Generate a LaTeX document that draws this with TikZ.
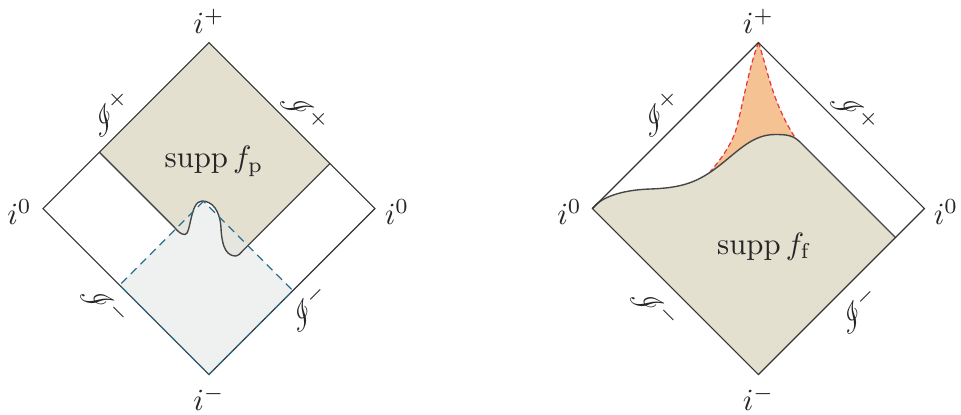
\documentclass[tikz,border=0pt]{standalone}
\usepackage{amsmath}
\usepackage{mathrsfs}
\definecolor{beige}{RGB}{227,224,208}
\definecolor{lightfill}{RGB}{231,234,233}
\definecolor{orangefill}{RGB}{245,194,147}
\definecolor{reddash}{RGB}{232,56,61}
\definecolor{tealdash}{RGB}{43,111,143}
\definecolor{edgecol}{RGB}{51,51,51}
\definecolor{curvecol}{RGB}{70,70,70}
\begin{document}
\begin{tikzpicture}[x=0.325pt,y=-0.325pt,
  outline/.style={draw=edgecol, line width=0.35pt},
  bound/.style={draw=curvecol, line width=0.45pt},
  tealline/.style={draw=tealdash, line width=0.4pt, dash pattern=on 2.6pt off 1.8pt},
  redline/.style={draw=reddash, line width=0.4pt, dash pattern=on 1.6pt off 1pt},
  lbl/.style={inner sep=0pt, text=black!85}]
\useasboundingbox (0,0) rectangle (961,414);

% ---------- left diagram ----------
\coordinate (Lt) at (209,42.5);
\coordinate (Lb) at (209,374.5);
\coordinate (Ll) at (43,208.5);
\coordinate (Lr) at (375,208.5);
\coordinate (PL) at (99.3,152.2);
\coordinate (PR) at (330,163.5);
\coordinate (PLa) at (174,226.9);
\coordinate (PRa) at (242,251.5);
\coordinate (QT) at (203.5,201.2);
\coordinate (QL) at (119.6,285.1);
\coordinate (QR) at (292.9,290.6);

\fill[beige] (Lt) -- (PL) -- (PLa) .. controls (178,231.5) and (181,234.5) .. (185,234.5)
  .. controls (191,234.5) and (190,201) .. (202,201)
  .. controls (212,201) and (220,210) .. (221,228)
  .. controls (222,250) and (228,256) .. (236,256)
  .. controls (238.5,256) and (240,253.5) .. (PRa) -- (PR) -- cycle;
\fill[lightfill, fill opacity=0.68] (QT) -- (QL) -- (Lb) -- (QR) -- cycle;
\draw[bound] (PL) -- (PLa) .. controls (178,231.5) and (181,234.5) .. (185,234.5)
  .. controls (191,234.5) and (190,201) .. (202,201)
  .. controls (212,201) and (220,210) .. (221,228)
  .. controls (222,250) and (228,256) .. (236,256)
  .. controls (238.5,256) and (240,253.5) .. (PRa) -- (PR);
\draw[outline] (Lt) -- (Lr) -- (Lb) -- (Ll) -- cycle;
\draw[tealline] (QT) -- (QL) -- (Lb) -- (QR) -- cycle;

\node[lbl] (lip) at (209,21) {$i^+$};
\node[lbl] (lim) at (209,398) {$i^-$};
\node[lbl] (li0l) at (19.5,212) {$i^0$};
\node[lbl] (li0r) at (397,212) {$i^0$};
\node[lbl, rotate=45] (lsul) at (110,113) {$\mathscr{I}^+$};
\node[lbl, rotate=-45] (lsur) at (305,112) {$\mathscr{I}^+$};
\node[lbl, rotate=-45] (lsll) at (105,305) {$\mathscr{I}^-$};
\node[lbl, rotate=45] (lslr) at (308,308) {$\mathscr{I}^-$};
\node[lbl] (lsupp) at (214,161.5) {$\operatorname{supp} f_{\mathrm{p}}$};

% ---------- right diagram ----------
\coordinate (Rt) at (758.5,42.5);
\coordinate (Rb) at (758.5,374.5);
\coordinate (Rl) at (592.5,208.5);
\coordinate (Rr) at (924.5,208.5);
\coordinate (RC) at (895.5,237.5);
\coordinate (RK) at (800,142);

\fill[orangefill] (Rt) .. controls (748,70) and (742,110) .. (735,133)
  .. controls (728,150) and (720,160) .. (710,172) -- (710,200) -- (800,200) -- (800,145)
  .. controls (772,105) and (768,70) .. (Rt) -- cycle;
\draw[redline] (Rt) .. controls (748,70) and (742,110) .. (735,133)
  .. controls (728,150) and (720,160) .. (710,172);
\draw[redline] (Rt) .. controls (768,70) and (772,105) .. (800,145);
\fill[beige] (Rl) -- (Rb) -- (RC) -- (RK) .. controls (793,135) and (786,134.5) .. (775,134.5)
  .. controls (750,134.5) and (735,155) .. (712,171)
  .. controls (695,182.8) and (680,188) .. (650,189)
  .. controls (620,190) and (600,198) .. (Rl) -- cycle;
\draw[bound] (RC) -- (RK) .. controls (793,135) and (786,134.5) .. (775,134.5)
  .. controls (750,134.5) and (735,155) .. (712,171)
  .. controls (695,182.8) and (680,188) .. (650,189)
  .. controls (620,190) and (600,198) .. (Rl);
\draw[outline] (Rt) -- (Rr) -- (Rb) -- (Rl) -- cycle;

\node[lbl] (rip) at (758.5,21) {$i^+$};
\node[lbl] (rim) at (758.5,398) {$i^-$};
\node[lbl] (ri0l) at (569.5,212) {$i^0$};
\node[lbl] (ri0r) at (946,212) {$i^0$};
\node[lbl, rotate=45] (rsul) at (660,113) {$\mathscr{I}^+$};
\node[lbl, rotate=-45] (rsur) at (855,112) {$\mathscr{I}^+$};
\node[lbl, rotate=-45] (rsll) at (655,308) {$\mathscr{I}^-$};
\node[lbl, rotate=45] (rslr) at (858,310) {$\mathscr{I}^-$};
\node[lbl] (rsupp) at (764.5,246.5) {$\operatorname{supp} f_{\mathrm{f}}$};
\end{tikzpicture}
\end{document}
